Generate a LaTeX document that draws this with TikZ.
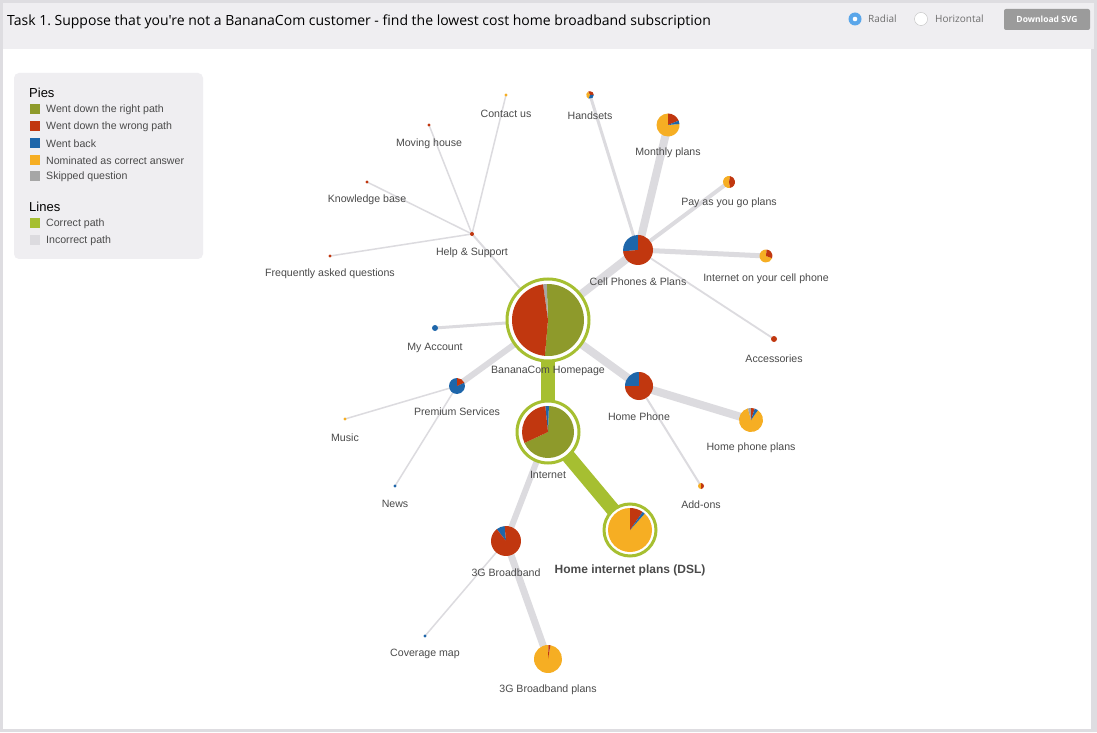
\documentclass[tikz,border=0pt]{standalone}
\usepackage{fontspec}
\setmainfont{Liberation Sans}
\newfontfamily\titlefont{Open Sans}
\usetikzlibrary{calc}
\frenchspacing
\definecolor{pgreen}{HTML}{8E9A2B}
\definecolor{pred}{HTML}{C1370F}
\definecolor{pblue}{HTML}{1E66AA}
\definecolor{pyellow}{HTML}{F6AE23}
\definecolor{pgray}{HTML}{A6A6A6}
\definecolor{lgreen}{HTML}{A6BF31}
\definecolor{lgray}{HTML}{DCDBDF}
\definecolor{hdrbg}{HTML}{EFEEF1}
\definecolor{frame}{HTML}{DEDDE1}
\definecolor{txt}{HTML}{4A4A4A}
\definecolor{radioblue}{HTML}{5AA6EA}
\definecolor{btn}{HTML}{9B9B9B}
\newcommand\slice[5]{\fill[#5] (#1) -- ++(#3:#2) arc[start angle=#3,end angle=#4,radius=#2] -- cycle;}
\tikzset{
  edge/.style={draw=lgray},
  goodedge/.style={draw=lgreen},
  lbl/.style={font=\fontsize{10.6}{12}\selectfont, text=txt, inner sep=0pt},
  ring/.style={draw=lgreen, line width=3pt, fill=white},
  legtxt/.style={font=\fontsize{10.6}{12}\selectfont, text=txt, inner sep=0pt, anchor=west},
  leghead/.style={font=\fontsize{13}{15}\selectfont, text=black, inner sep=0pt, anchor=west},
  legsq/.style={minimum size=10pt, inner sep=0pt},
}
\begin{document}
\begin{tikzpicture}[x=1pt,y=1pt]
\useasboundingbox (0,0) rectangle (1097,732);
% frame and background
\fill[frame] (0,0) rectangle (1097,732);
\fill[hdrbg] (3,683) rectangle (1094,729);
\fill[white] (3,3) rectangle (1091,683);
% header
\node[anchor=west, inner sep=0pt, font=\titlefont\fontsize{14}{16}\selectfont, text=black] (title) at (7,710.5) {Task 1. Suppose that you're not a BananaCom customer - find the lowest cost home broadband subscription};
\node[circle, fill=radioblue, minimum size=13pt, inner sep=0pt] (rad) at (855,713) {};
\fill[white] (rad) circle (2.3pt);
\node[anchor=west, inner sep=0pt, font=\titlefont\fontsize{10}{12}\selectfont, text=txt!80] (radt) at (868,713) {Radial};
\node[circle, draw=black!25, fill=white, minimum size=13pt, inner sep=0pt] (hor) at (921,713) {};
\node[anchor=west, inner sep=0pt, font=\titlefont\fontsize{10}{12}\selectfont, text=txt!80] (hort) at (935,713) {Horizontal};
\node[fill=btn, rounded corners=2pt, minimum width=86pt, minimum height=21pt, inner sep=0pt, text=white, font=\titlefont\bfseries\fontsize{8.5}{10}\selectfont] (dl) at (1047,712.5) {Download SVG};
% legend
\fill[hdrbg, rounded corners=5pt] (14,473) rectangle (203,659);
\node[leghead] (lp) at (29,639) {Pies};
\node[legsq, fill=pgreen] (s1) at (35,623) {}; \node[legtxt] (t1) at (46,622.5) {Went down the right path};
\node[legsq, fill=pred] (s2) at (35,606) {}; \node[legtxt] (t2) at (46,605.5) {Went down the wrong path};
\node[legsq, fill=pblue] (s3) at (35,589) {}; \node[legtxt] (t3) at (46,588.5) {Went back};
\node[legsq, fill=pyellow] (s4) at (35,572) {}; \node[legtxt] (t4) at (46,571.5) {Nominated as correct answer};
\node[legsq, fill=pgray] (s5) at (35,556) {}; \node[legtxt] (t5) at (46,555.5) {Skipped question};
\node[leghead] (ll) at (29,525) {Lines};
\node[legsq, fill=lgreen] (s6) at (35,509) {}; \node[legtxt] (t6) at (46,508.5) {Correct path};
\node[legsq, fill=lgray] (s7) at (35,492) {}; \node[legtxt] (t7) at (46,491.5) {Incorrect path};
% node positions
\coordinate (home) at (548,412);
\coordinate (internet) at (548,300);
\coordinate (dsl) at (630,202);
\coordinate (cell) at (638,482);
\coordinate (handsets) at (590,637);
\coordinate (monthly) at (668,607);
\coordinate (payg) at (729,550);
\coordinate (inetcell) at (766,476);
\coordinate (access) at (774,393);
\coordinate (help) at (472,498);
\coordinate (contact) at (506,637);
\coordinate (moving) at (429,607);
\coordinate (kb) at (367,550);
\coordinate (faq) at (330,476);
\coordinate (myacc) at (435,404);
\coordinate (premium) at (457,346);
\coordinate (music) at (345,313);
\coordinate (news) at (395,246);
\coordinate (hphone) at (639,346);
\coordinate (hpplans) at (751,312);
\coordinate (addons) at (701,246);
\coordinate (gthree) at (506,191);
\coordinate (coverage) at (425,96);
\coordinate (gthreeplans) at (548,73);
% edges
\draw[edge, line width=8pt] (home) -- (cell);
\draw[edge, line width=2pt] (home) -- (help);
\draw[edge, line width=3pt] (home) -- (myacc);
\draw[edge, line width=6pt] (home) -- (premium);
\draw[edge, line width=8pt] (home) -- (hphone);
\draw[edge, line width=3pt] (cell) -- (handsets);
\draw[edge, line width=8pt] (cell) -- (monthly);
\draw[edge, line width=4pt] (cell) -- (payg);
\draw[edge, line width=5pt] (cell) -- (inetcell);
\draw[edge, line width=1.8pt] (cell) -- (access);
\draw[edge, line width=1.5pt] (help) -- (contact);
\draw[edge, line width=1.5pt] (help) -- (moving);
\draw[edge, line width=1.5pt] (help) -- (kb);
\draw[edge, line width=1.5pt] (help) -- (faq);
\draw[edge, line width=1.5pt] (premium) -- (music);
\draw[edge, line width=1.5pt] (premium) -- (news);
\draw[edge, line width=8pt] (hphone) -- (hpplans);
\draw[edge, line width=2pt] (hphone) -- (addons);
\draw[edge, line width=6pt] (internet) -- (gthree);
\draw[edge, line width=1.5pt] (gthree) -- (coverage);
\draw[edge, line width=7pt] (gthree) -- (gthreeplans);
\draw[goodedge, line width=14pt] (home) -- (internet);
\draw[goodedge, line width=14pt] (internet) -- (dsl);
% rings
\draw[ring] (home) circle (41pt);
\draw[ring] (internet) circle (31pt);
\draw[ring] (dsl) circle (26pt);
% pies
\slice{home}{36pt}{-95}{92}{pgreen}
\slice{home}{36pt}{92}{98}{pgray}
\slice{home}{36pt}{98}{265}{pred}
\slice{internet}{26pt}{-155}{88}{pgreen}
\slice{internet}{26pt}{88}{96}{pblue}
\slice{internet}{26pt}{96}{205}{pred}
\slice{dsl}{22pt}{90}{408}{pyellow}
\slice{dsl}{22pt}{55}{90}{pred}
\slice{dsl}{22pt}{48}{55}{pblue}
\slice{cell}{15pt}{90}{185}{pblue}
\slice{cell}{15pt}{185}{450}{pred}
\slice{handsets}{3.8pt}{0}{120}{pred}
\slice{handsets}{3.8pt}{120}{250}{pyellow}
\slice{handsets}{3.8pt}{250}{360}{pblue}
\slice{monthly}{11.5pt}{90}{365}{pyellow}
\slice{monthly}{11.5pt}{22}{90}{pred}
\slice{monthly}{11.5pt}{5}{22}{pblue}
\slice{payg}{6pt}{80}{280}{pyellow}
\slice{payg}{6pt}{-80}{80}{pred}
\slice{inetcell}{6.5pt}{85}{340}{pyellow}
\slice{inetcell}{6.5pt}{-20}{85}{pred}
\fill[pred] (access) circle (3pt);
\fill[pred] (help) circle (2pt);
\fill[pyellow] (contact) circle (1.6pt);
\fill[pred] (moving) circle (1.6pt);
\fill[pred] (kb) circle (1.6pt);
\fill[pred] (faq) circle (1.6pt);
\fill[pblue] (myacc) circle (3pt);
\slice{premium}{8pt}{90}{385}{pblue}
\slice{premium}{8pt}{25}{90}{pred}
\fill[pyellow] (music) circle (1.6pt);
\fill[pblue] (news) circle (1.6pt);
\slice{hphone}{14pt}{90}{180}{pblue}
\slice{hphone}{14pt}{180}{450}{pred}
\slice{hpplans}{12pt}{105}{415}{pyellow}
\slice{hpplans}{12pt}{90}{105}{pgray}
\slice{hpplans}{12pt}{72}{90}{pred}
\slice{hpplans}{12pt}{55}{72}{pblue}
\slice{addons}{3pt}{90}{270}{pyellow}
\slice{addons}{3pt}{-90}{90}{pred}
\slice{gthree}{15pt}{95}{128}{pblue}
\slice{gthree}{15pt}{128}{455}{pred}
\fill[pblue] (coverage) circle (1.6pt);
\slice{gthreeplans}{14pt}{88}{440}{pyellow}
\slice{gthreeplans}{14pt}{80}{88}{pred}
% labels
\node[lbl] (lhome) at (548,361) {BananaCom Homepage};
\node[lbl] (linternet) at (548,257) {Internet};
\node[lbl, font=\bfseries\fontsize{12}{14}\selectfont] (ldsl) at (630,162) {Home internet plans (DSL)};
\node[lbl] (lcell) at (638,450) {Cell Phones \& Plans};
\node[lbl] (lhandsets) at (590,616) {Handsets};
\node[lbl] (lmonthly) at (668,579) {Monthly plans};
\node[lbl] (lpayg) at (729,529) {Pay as you go plans};
\node[lbl] (linetcell) at (766,453) {Internet on your cell phone};
\node[lbl] (laccess) at (774,373) {Accessories};
\node[lbl] (lhelp) at (472,479) {Help \& Support};
\node[lbl] (lcontact) at (506,618) {Contact us};
\node[lbl] (lmoving) at (429,588) {Moving house};
\node[lbl] (lkb) at (367,532) {Knowledge base};
\node[lbl] (lfaq) at (330,458) {Frequently asked questions};
\node[lbl] (lmyacc) at (435,384) {My Account};
\node[lbl] (lpremium) at (457,320) {Premium Services};
\node[lbl] (lmusic) at (345,294) {Music};
\node[lbl] (lnews) at (395,228) {News};
\node[lbl] (lhphone) at (639,315) {Home Phone};
\node[lbl] (lhpplans) at (751,284) {Home phone plans};
\node[lbl] (laddons) at (701,227) {Add-ons};
\node[lbl] (lgthree) at (506,159) {3G Broadband};
\node[lbl] (lcoverage) at (425,78) {Coverage map};
\node[lbl] (lgthreeplans) at (548,42) {3G Broadband plans};
\end{tikzpicture}
\end{document}
